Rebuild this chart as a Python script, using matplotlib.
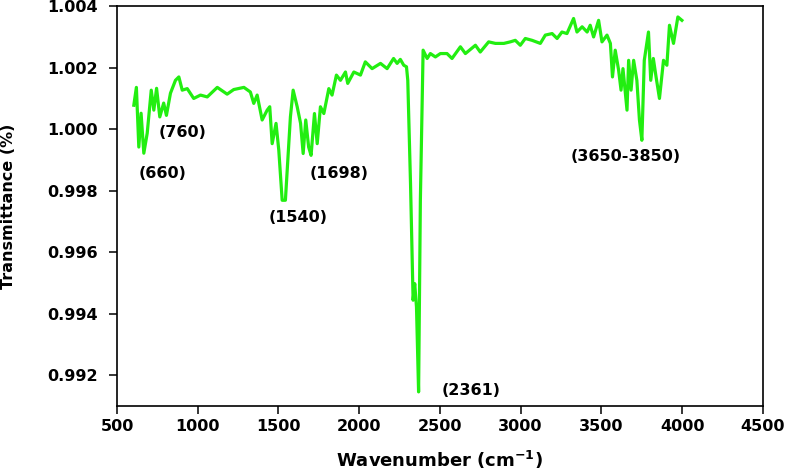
import matplotlib
matplotlib.use("Agg")
import matplotlib.pyplot as plt

# FTIR spectrum
wavenumber = [604, 620, 635, 649, 666, 687, 712, 728, 745, 765, 789, 806, 831, 862, 883,
              904, 935, 975, 1017, 1059, 1121, 1182, 1223, 1286, 1326, 1347, 1368, 1399,
              1430, 1446, 1461, 1485, 1502, 1523, 1543, 1558, 1574, 1591, 1616, 1637,
              1653, 1669, 1687, 1702, 1723, 1740, 1760, 1781, 1812, 1832, 1859, 1884,
              1915, 1929, 1967, 2008, 2038, 2080, 2132, 2173, 2213, 2235, 2255, 2276,
              2293, 2301, 2318, 2334, 2344, 2355, 2368, 2379, 2396, 2421, 2441, 2472,
              2503, 2544, 2575, 2627, 2658, 2720, 2750, 2802, 2844, 2896, 2936, 2967,
              2998, 3029, 3071, 3122, 3153, 3195, 3226, 3256, 3287, 3328, 3349, 3381,
              3412, 3431, 3452, 3483, 3504, 3535, 3556, 3569, 3586, 3607, 3622, 3634,
              3648, 3659, 3669, 3684, 3700, 3720, 3736, 3751, 3766, 3792, 3806, 3822,
              3839, 3860, 3885, 3906, 3922, 3947, 3974, 3999]
transmittance = [1.00078, 1.00136, 0.99942, 1.00052, 0.99922, 0.99987, 1.00127, 1.00062,
                 1.00133, 1.00040, 1.00085, 1.00045, 1.00117, 1.00159, 1.00170, 1.00127,
                 1.00132, 1.00100, 1.00111, 1.00105, 1.00136, 1.00114, 1.00129, 1.00136,
                 1.00121, 1.00084, 1.00111, 1.00030, 1.00062, 1.00073, 0.99953, 1.00019,
                 0.99932, 0.99769, 0.99769, 0.99900, 1.00040, 1.00127, 1.00073, 1.00019,
                 0.99921, 1.00030, 0.99942, 0.99915, 1.00051, 0.99953, 1.00073, 1.00051,
                 1.00132, 1.00111, 1.00176, 1.00159, 1.00186, 1.00149, 1.00186, 1.00176,
                 1.00219, 1.00197, 1.00214, 1.00197, 1.00230, 1.00214, 1.00227, 1.00208,
                 1.00203, 1.00159, 0.99823, 0.99444, 0.99498, 0.99422, 0.99146, 0.99769,
                 1.00257, 1.00230, 1.00246, 1.00235, 1.00246, 1.00246, 1.00230, 1.00268,
                 1.00246, 1.00273, 1.00251, 1.00284, 1.00279, 1.00279, 1.00284, 1.00289,
                 1.00273, 1.00295, 1.00289, 1.00279, 1.00306, 1.00311, 1.00295, 1.00316,
                 1.00311, 1.00360, 1.00316, 1.00333, 1.00316, 1.00338, 1.00300, 1.00354,
                 1.00284, 1.00306, 1.00279, 1.00170, 1.00257, 1.00192, 1.00127, 1.00197,
                 1.00121, 1.00062, 1.00224, 1.00127, 1.00224, 1.00159, 1.00030, 0.99964,
                 1.00224, 1.00316, 1.00159, 1.00230, 1.00170, 1.00100, 1.00224, 1.00208,
                 1.00338, 1.00279, 1.00365, 1.00354]

# peak labels and where they sit
peak_labels = ["(660)", "(760)", "(1540)", "(1698)", "(2361)", "(3650-3850)"]
label_x = [782, 906, 1621, 1875, 2696, 3652]
label_y = [0.99857, 0.99990, 0.99714, 0.99857, 0.99151, 0.99910]

fig = plt.figure(figsize=(7.88, 4.76), dpi=100)
ax = fig.add_axes([0.1485, 0.147, 0.8195, 0.840])

ax.plot(wavenumber, transmittance, color="#22ee11", linewidth=2.3)

for lab, lx, ly in zip(peak_labels, label_x, label_y):
    ax.text(lx, ly, lab, ha="center", va="center", fontsize=11.5, fontweight="bold")

ax.set_xlim(500, 4500)
ax.set_ylim(0.991, 1.004)
ax.set_xticks([500, 1000, 1500, 2000, 2500, 3000, 3500, 4000, 4500])
ax.set_yticks([0.992, 0.994, 0.996, 0.998, 1.000, 1.002, 1.004])
ax.set_yticklabels(["0.992", "0.994", "0.996", "0.998", "1.000", "1.002", "1.004"])
ax.tick_params(direction="out", length=6, width=1.1, labelsize=11.5)
ax.tick_params(axis="x", pad=3)
ax.tick_params(axis="y", pad=8)
for lab in ax.get_xticklabels() + ax.get_yticklabels():
    lab.set_fontweight("bold")
for sp in ax.spines.values():
    sp.set_linewidth(1.2)

ax.set_xlabel("Wavenumber (cm$^{\\mathbf{-1}}$)", fontsize=13, fontweight="bold", labelpad=11)
ax.set_ylabel("Transmittance (%)", fontsize=11.5, fontweight="bold", labelpad=22)

fig.savefig("out.png", dpi=100)
